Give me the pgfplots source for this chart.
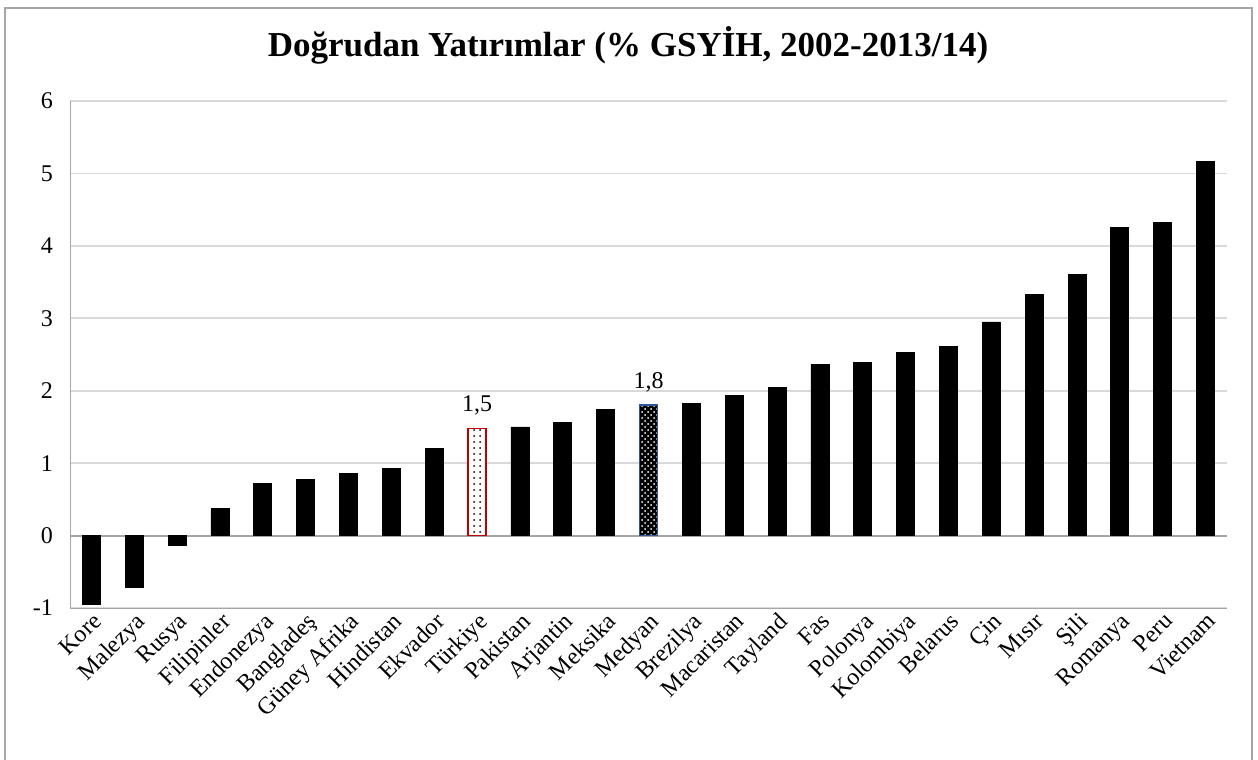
\documentclass[border=0pt]{standalone}
\usepackage{pgfplots}
\pgfplotsset{compat=1.18}
\usetikzlibrary{patterns}
\usepackage{fontspec}
\setmainfont{Liberation Serif}

\definecolor{gridgray}{HTML}{D9D9D9}
\definecolor{axgray}{HTML}{A6A6A6}
\definecolor{turred}{HTML}{C00000}
\definecolor{medblue}{HTML}{2F5597}

\begin{document}
\begin{tikzpicture}
\begin{axis}[
    scale only axis,
    width=578.5pt, height=253.5pt,
    xmin=-0.5, xmax=26.5,
    ymin=-1, ymax=6,
    ytick={-1,0,...,6},
    xtick={0,...,26},
    xticklabels={Kore,Malezya,Rusya,Filipinler,Endonezya,Bangladeş,Güney Afrika,Hindistan,Ekvador,Türkiye,Pakistan,Arjantin,Meksika,Medyan,Brezilya,Macaristan,Tayland,Fas,Polonya,Kolombiya,Belarus,Çin,Mısır,Şili,Romanya,Peru,Vietnam},
    xticklabel style={rotate=45, anchor=north east, inner sep=1pt, font=\fontsize{12}{12}\selectfont},
    yticklabel style={font=\fontsize{12}{12}\selectfont, xshift=-5pt},
    /pgf/number format/assume math mode=true,
    major tick length=0pt,
    axis lines*=left,
    axis line style={draw=axgray, -},
    ymajorgrids,
    grid style={draw=gridgray, line width=0.8pt},
    extra y ticks={0},
    extra y tick labels={},
    extra y tick style={grid style={draw=axgray, line width=1pt}},
    ybar, bar width=9pt, bar shift=0pt,
]
% tum ulkeler (Turkiye ve medyan haric)
\addplot[fill=black, draw=black] coordinates {
    (0,-0.95) (1,-0.72) (2,-0.14) (3,0.37) (4,0.72) (5,0.77) (6,0.86) (7,0.93) (8,1.20)
    (10,1.50) (11,1.56) (12,1.74)
    (14,1.83) (15,1.93) (16,2.04) (17,2.36) (18,2.39) (19,2.53) (20,2.61) (21,2.95)
    (22,3.33) (23,3.60) (24,4.26) (25,4.32) (26,5.17)
};
% Turkiye
\addplot[fill=white, draw=turred, line width=0.8pt,
    postaction={pattern=dots, pattern color=black},
    nodes near coords={\pgfmathprintnumber[fixed, precision=1, use comma]{\pgfplotspointmeta}},
    every node near coord/.append style={font=\fontsize{12}{12}\selectfont, inner sep=0pt, yshift=6pt, text=black}]
    coordinates {(9,1.48)};
% Medyan
\addplot[fill=black, draw=medblue, line width=0.8pt,
    postaction={pattern=crosshatch dots, pattern color=white},
    nodes near coords={\pgfmathprintnumber[fixed, precision=1, use comma]{\pgfplotspointmeta}},
    every node near coord/.append style={font=\fontsize{12}{12}\selectfont, inner sep=0pt, yshift=6pt, text=black}]
    coordinates {(13,1.80)};
\end{axis}
\node[font=\bfseries\fontsize{17.5}{19}\selectfont] at (279pt,281.5pt) {Doğrudan Yatırımlar (\% GSYİH, 2002-2013/14)};
\draw[axgray, line width=1pt] (-32.5pt,-81pt) rectangle (591pt,300pt);
\pgfresetboundingbox
\path[use as bounding box] (-35pt,-76pt) rectangle (594pt,304pt);
\end{tikzpicture}
\end{document}
